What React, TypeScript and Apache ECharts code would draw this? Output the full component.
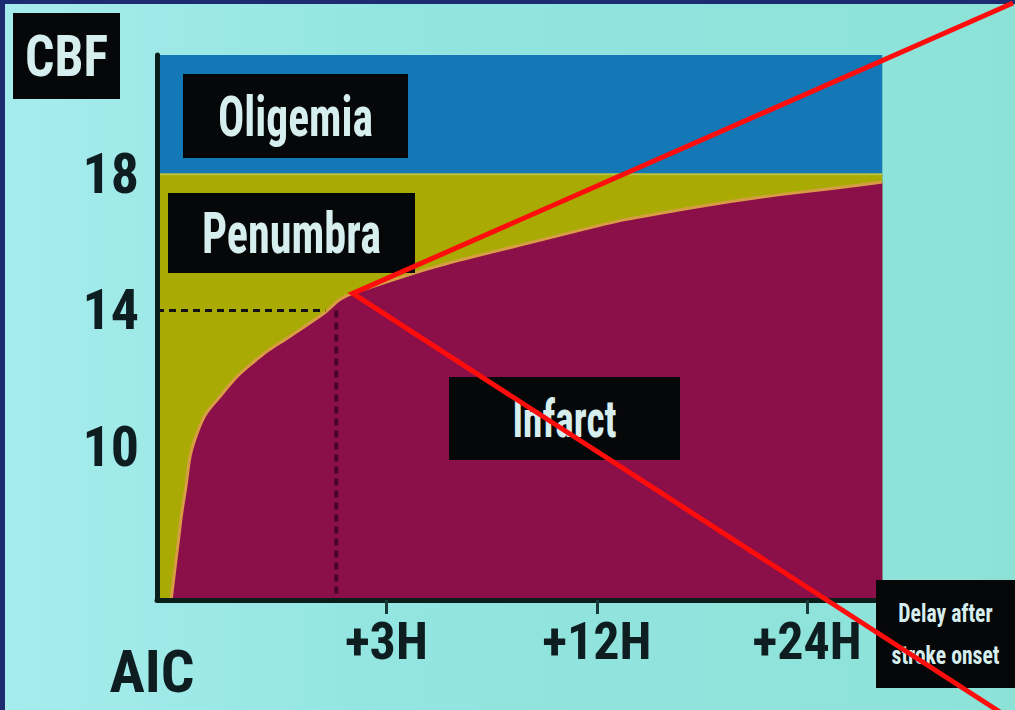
import React, { useEffect, useRef } from "react";
import * as echarts from "echarts";

// ---- data ----
const yTickValues = [10, 14, 18];
const xTickValues = [1, 2, 3];
const xTickLabels = ["+3H", "+12H", "+24H"];
const xStart = -0.09;
const xEnd = 3.357;
const yMin = 5.5;
const yMax = 21.5;
const oligemiaLevel = 21.5;
const penumbraLevel = 18;
// infarct boundary (CBF threshold vs delay)
const infarctX = [-0.023, 0.008, 0.04, 0.103, 0.222, 0.381, 0.539, 0.682, 0.84, 1.794, 2.474, 3.324, 3.357];
const infarctY = [5.5, 7.06, 8.53, 10.44, 11.57, 12.55, 13.23, 13.82, 14.5, 16.16, 17.04, 17.74, 17.77];
const thresholdCBF = 14;
const thresholdEndX = 0.71;
const thresholdDelayX = 0.762;
const markPoint = [0.84, 14.5];

const FONT = "'Roboto Condensed', 'DejaVu Sans Condensed', 'Liberation Sans', sans-serif";
const DARK = "#0d1d20";
const BOXTXT = "#d6eeee";

function measure(text: string, size: number): number {
  const c = document.createElement("canvas").getContext("2d");
  if (!c) return text.length * size * 0.55;
  c.font = `bold ${size}px ${FONT}`;
  return c.measureText(text).width;
}

function scaledText(cx: number, cy: number, text: string, size: number, targetW: number, fill: string, z: number, lh?: number, measureLine?: string) {
  const w = measure(measureLine ?? text, size);
  const sx = targetW / w;
  return {
    type: "text",
    x: cx,
    y: cy,
    scaleX: sx,
    z,
    style: {
      text,
      fill,
      font: `bold ${size}px ${FONT}`,
      fontFamily: FONT,
      fontWeight: "bold",
      fontSize: size,
      lineHeight: lh,
      align: "center",
      verticalAlign: "middle",
      textAlign: "center",
      textVerticalAlign: "middle",
    },
  };
}

function boxLabel(x: number, y: number, w: number, h: number, text: string, size: number, targetW: number, lh?: number, measureLine?: string) {
  return {
    type: "group",
    children: [
      { type: "rect", shape: { x, y, width: w, height: h }, style: { fill: "#050708" }, z: 20 },
      scaledText(x + w / 2, y + h / 2, text, size, targetW, BOXTXT, 21, lh, measureLine),
    ],
  };
}

export default function App() {
  const ref = useRef<HTMLDivElement>(null);
  useEffect(() => {
    if (!ref.current) return;
    const chart = echarts.init(ref.current, undefined, { renderer: "svg" });
    const curve = infarctX.map((x, i) => [x, infarctY[i]]);
    const option: any = {
      animation: false,
      backgroundColor: "transparent",
      grid: { left: 157, right: 90, top: 55, bottom: 110, containLabel: false },
      xAxis: {
        type: "value",
        min: xStart,
        max: 3.56,
        z: 6,
        splitLine: { show: false },
        axisLine: {
          show: true,
          onZero: false,
          lineStyle: { color: "#0a1e1c", width: 5 },
          symbol: ["none", "arrow"],
          symbolSize: [14, 16],
        },
        axisTick: { show: true, customValues: xTickValues, length: 14, lineStyle: { color: "#1a3a3a", width: 3 } },
        axisLabel: {
          customValues: xTickValues,
          formatter: (v: number) => xTickLabels[xTickValues.indexOf(Math.round(v))] ?? "",
          margin: 15,
          color: DARK,
          fontFamily: FONT,
          fontWeight: "bold",
          fontSize: 52,
        },
      },
      yAxis: {
        type: "value",
        min: yMin,
        max: yMax,
        z: 6,
        splitLine: { show: false },
        axisLine: { show: true, onZero: false, lineStyle: { color: "#0a1e1c", width: 5 } },
        axisTick: { show: false },
        axisLabel: {
          customValues: yTickValues,
          formatter: (v: number) => String(Math.round(v)),
          margin: 18,
          color: DARK,
          fontFamily: FONT,
          fontWeight: "bold",
          fontSize: 56,
        },
      },
      series: [
        {
          type: "line",
          data: [[xStart, oligemiaLevel], [xEnd, oligemiaLevel]],
          showSymbol: false,
          lineStyle: { width: 0 },
          areaStyle: { color: "#1478b6", opacity: 1, origin: "start" },
          z: 1,
        },
        {
          type: "line",
          data: [[xStart, penumbraLevel], [xEnd, penumbraLevel]],
          showSymbol: false,
          lineStyle: { width: 2, color: "#b9c23a" },
          areaStyle: { color: "#aaaa04", opacity: 1, origin: "start" },
          z: 2,
        },
        {
          type: "line",
          data: curve,
          showSymbol: false,
          smooth: 0.5,
          lineStyle: { width: 3, color: "#d89c44" },
          areaStyle: { color: "#8b0f48", opacity: 1, origin: "start" },
          z: 3,
        },
        {
          type: "line",
          data: [[xStart, thresholdCBF], [thresholdEndX, thresholdCBF]],
          showSymbol: false,
          lineStyle: { width: 3, color: "#111", type: [7, 5] },
          z: 4,
        },
        {
          type: "line",
          data: [[thresholdDelayX, thresholdCBF], [thresholdDelayX, yMin]],
          showSymbol: false,
          lineStyle: { width: 4, color: "#4a0626", type: [7, 5] },
          z: 4,
        },
      ],
    };
    chart.setOption(option);
    const v = chart.convertToPixel({ xAxisIndex: 0, yAxisIndex: 0 }, markPoint) as number[];
    option.graphic = [
      { type: "rect", shape: { x: 0, y: 0, width: 1015, height: 4 }, style: { fill: "#1d2b70" }, z: 30 },
      { type: "rect", shape: { x: 0, y: 0, width: 5, height: 710 }, style: { fill: "#1d2b70" }, z: 30 },
      boxLabel(13, 13, 107, 86, "CBF", 58, 83),
      boxLabel(183, 74, 225, 84, "Oligemia", 56, 155),
      boxLabel(168, 193, 247, 80, "Penumbra", 57, 179),
      boxLabel(449, 377, 231, 83, "Infarct", 52, 104),
      boxLabel(876, 580, 139, 108, "Delay after\nstroke onset", 26, 108, 42, "stroke onset"),
      scaledText(152, 672, "AIC", 60, 85, DARK, 20),
      {
        type: "polyline",
        shape: { points: [[1013, 3], [v[0], v[1]], [1000, 712]] },
        style: { stroke: "#ff0d0d", lineWidth: 5, fill: null },
        z: 40,
      },
    ];
    chart.setOption(option);
    return () => chart.dispose();
  }, []);
  return (
    <div
      style={{
        position: "absolute",
        left: 0,
        top: 0,
        width: 1015,
        height: 710,
        background: "linear-gradient(90deg, #a6ecee 0%, #92e5e0 40%, #8de2d8 100%)",
      }}
    >
      <div ref={ref} style={{ width: 1015, height: 710 }} />
    </div>
  );
}
